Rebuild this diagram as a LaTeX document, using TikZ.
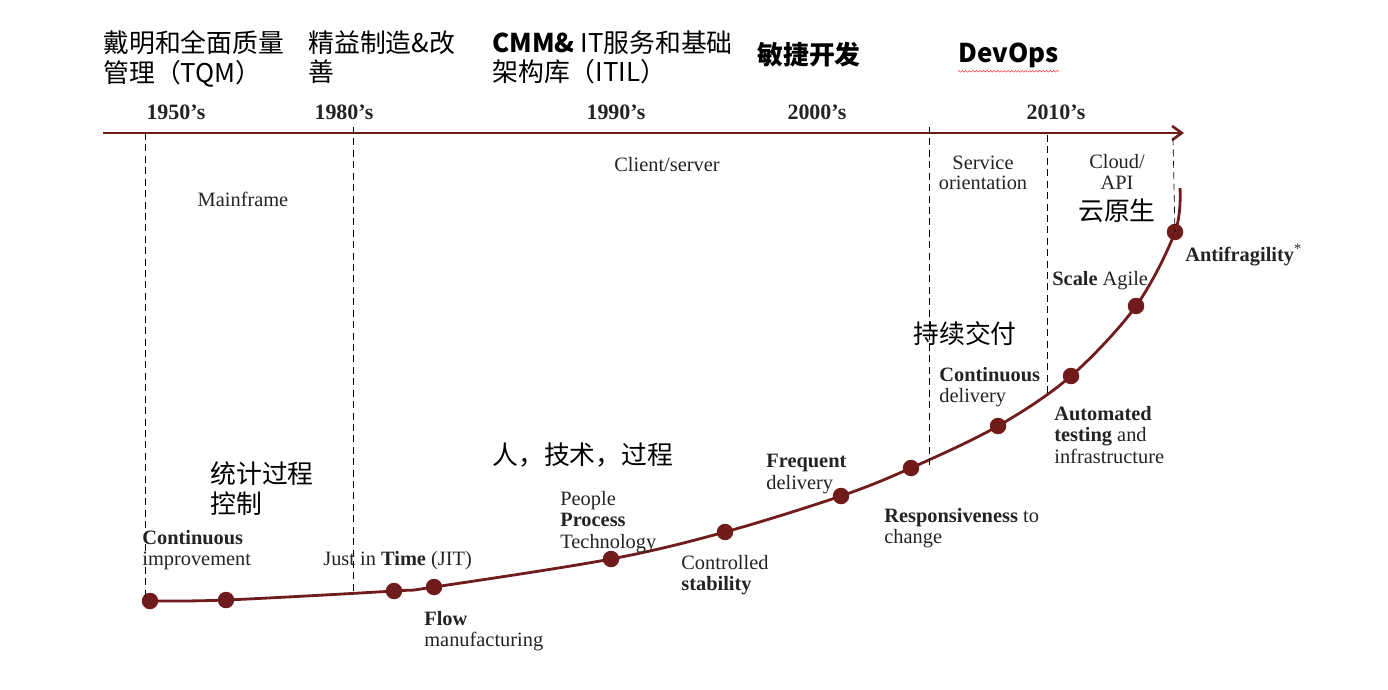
\documentclass[tikz,border=0pt]{standalone}
\usepackage{fontspec}
\setmainfont{Liberation Serif}
\newfontfamily\cjk{Noto Sans CJK SC}
\usetikzlibrary{positioning,arrows,arrows.meta,decorations.pathmorphing}

\definecolor{darkred}{RGB}{112,28,28}
\definecolor{inkgray}{RGB}{35,35,35}

\begin{document}
\begin{tikzpicture}[
	x=0.02cm, y=-0.02cm,
	dot/.style={circle, fill=darkred, inner sep=0pt, minimum size=0.33cm},
	lbl/.style={inner sep=0pt, anchor=north west, align=left, text=inkgray, font=\fontsize{11.6}{12.2}\selectfont},
	era/.style={inner sep=0pt, align=center, text=inkgray, font=\fontsize{11.6}{11.6}\selectfont},
	year/.style={inner sep=0pt, text=inkgray, font=\fontsize{12.5}{13}\selectfont\bfseries},
	cn/.style={inner sep=0pt, anchor=north west, align=left, font=\cjk\fontsize{14.7}{17}\selectfont},
	vline/.style={thin, dash pattern=on 4pt off 2.5pt}
	]
	\useasboundingbox (0,0) rectangle (1388,689);
	
	% time axis
	\coordinate (axstart) at (103,133);
	\coordinate (axend) at (1184,133);
	\draw[-{Straight Barb[length=5.5pt,width=8pt]}, darkred, line width=1.5pt] (axstart) -- (axend);
	
	% top headings
	\node[cn] (tqm) at (103,30) {戴明和全面质量\\管理（TQM）};
	\node[cn] (lean) at (308,30) {精益制造\&改\\善};
	\node[cn] (itil) at (492,30) {{\bfseries CMM\&} IT服务和基础\\架构库（ITIL）};
	\node[cn, anchor=west] (agile) at (757,55) {\bfseries 敏捷开发};
	\node[cn, anchor=west] (devops) at (958,55) {\bfseries DevOps};
	\draw[red, very thin, decorate, decoration={zigzag, segment length=2pt, amplitude=0.5pt}]
		([yshift=-2pt]devops.south west) -- ([yshift=-2pt]devops.south east);
	
	% decades
	\node[year] (y50) at (176,112) {1950’s};
	\node[year] (y80) at (344,112) {1980’s};
	\node[year] (y90) at (616,112) {1990’s};
	\node[year] (y00) at (817,112) {2000’s};
	\node[year] (y10) at (1056,112) {2010’s};
	
	% eras
	\node[era] (mainframe) at (243,199) {Mainframe};
	\node[era] (client) at (667,165) {Client/server};
	\node[era] (soa) at (983,173) {Service\\orientation};
	\node[era] (cloud) at (1117,172) {Cloud/\\API};
	\node[cn, anchor=north] (native) at (1117,198) {云原生};
	
	% milestones on the curve
	\node[dot] (d1) at (150,601) {};
	\node[dot] (d2) at (226,600) {};
	\node[dot] (d3) at (394,591) {};
	\node[dot] (d4) at (434,587) {};
	\node[dot] (d5) at (611,559) {};
	\node[dot] (d6) at (725,532) {};
	\node[dot] (d7) at (841,496) {};
	\node[dot] (d8) at (911,468) {};
	\node[dot] (d9) at (998,426) {};
	\node[dot] (d10) at (1071,376) {};
	\node[dot] (d11) at (1136,306) {};
	\node[dot] (d12) at (1175,232) {};
	\coordinate (cend) at (1180,188);
	
	\draw[darkred, line width=1.6pt] plot[smooth, tension=0.55] coordinates {(d1.center) (d2.center) (d3.center) (d4.center) (d5.center) (d6.center) (d7.center) (d8.center) (d9.center) (d10.center) (d11.center) (d12.center) (cend)};
	
	% era boundaries
	\coordinate (b50) at (145,133);
	\coordinate (b80) at (353,127);
	\coordinate (b95) at (929,127);
	\coordinate (b10) at (1047,135);
	\coordinate (b15) at (1173,138);
	\draw[vline] (b50) -- (b50 |- d1);
	\draw[vline] (b80) -- (353,594);
	\draw[vline] (b95) -- (b95 |- d8);
	\draw[vline] (b10) -- (1047,395);
	\draw[vline] (b15) -- (d12.center);
	
	% milestone labels
	\node[lbl] (cont) at (142,530) {\textbf{Continuous}\\improvement};
	\node[lbl] (jit) at (323,551) {Just in \textbf{Time} (JIT)};
	\node[lbl] (flow) at (424,611) {\textbf{Flow}\\manufacturing};
	\node[lbl] (ppt) at (560,491) {People\\\textbf{Process}\\Technology};
	\node[lbl] (ctrl) at (681,555) {Controlled\\\textbf{stability}};
	\node[lbl] (freq) at (766,454) {\textbf{Frequent}\\delivery};
	\node[lbl] (resp) at (884,508) {\textbf{Responsiveness} to\\change};
	\node[lbl] (cdel) at (939,367) {\textbf{Continuous}\\delivery};
	\node[lbl] (auto) at (1054,406) {\textbf{Automated}\\\textbf{testing} and\\infrastructure};
	\node[lbl] (scale) at (1052,271) {\textbf{Scale} Agile};
	\node[lbl] (anti) at (1185,244) {\textbf{Antifragility}\textsuperscript{*}};
	
	% chinese notes
	\node[cn] (spc) at (210,461) {统计过程\\控制};
	\node[cn, anchor=west] (ptp) at (492,455) {人，技术，过程};
	\node[cn, anchor=west] (cd) at (913,334) {持续交付};
\end{tikzpicture}
\end{document}
